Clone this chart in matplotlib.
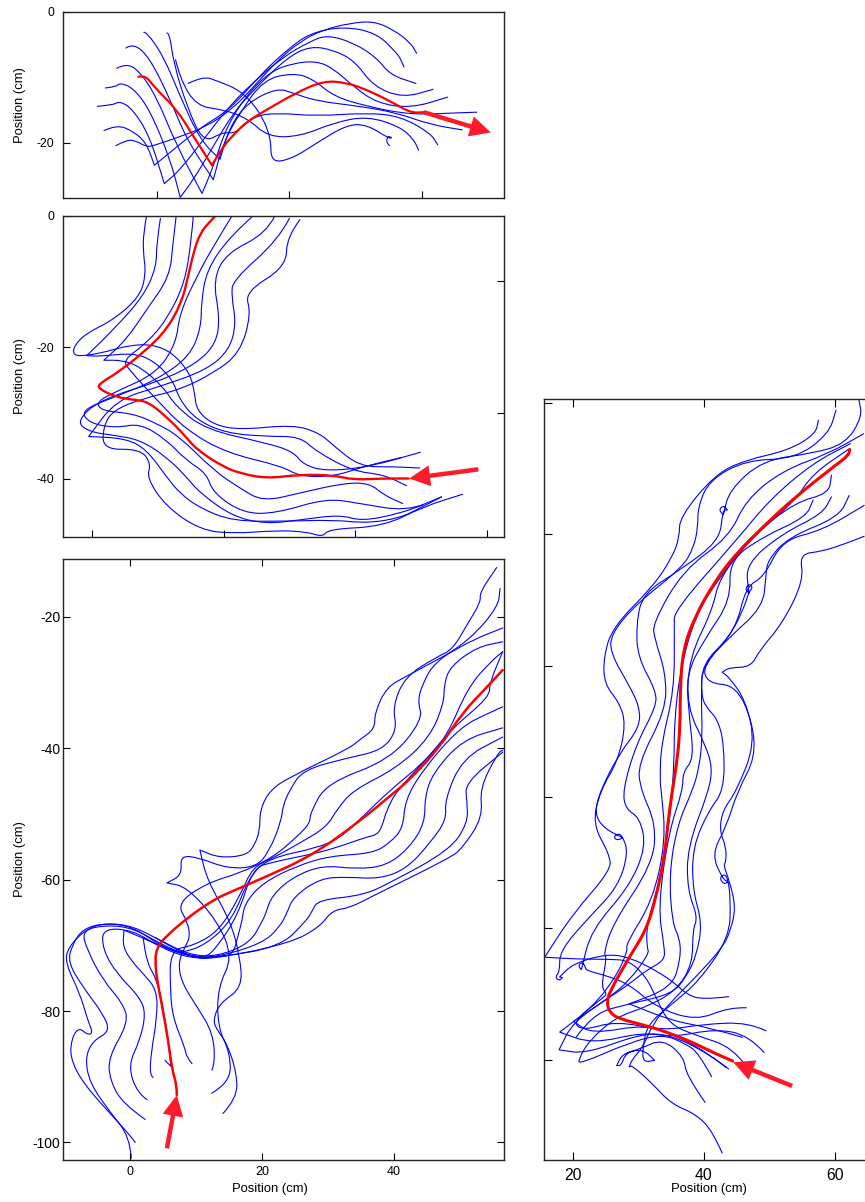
import math

import matplotlib
matplotlib.use("Agg")
import matplotlib.pyplot as plt
from matplotlib.patches import PathPatch
from matplotlib.path import Path

plt.rcParams['font.family'] = ['Liberation Sans', 'DejaVu Sans']
plt.rcParams['axes.unicode_minus'] = False

# top panel, positions in cm
a1 = [(-6.2,-20.4),(-4.6,-19.5),(-3.1,-19.7),(-1.6,-20.6),(-0.5,-20.4),(3.0,-19.2),(7.5,-17.5),(11.5,-14.7),(14.6,-11.4),(18.1,-7.5),(21.6,-4.5),(25.1,-2.7),(29.2,-1.7),(32.7,-1.4),(35.7,-2.7),(38.3,-4.7),(39.2,-6.3)]
a2 = [(-8,-18.1),(-6.1,-17.2),(-3.6,-18.2),(-1.6,-20),(-.4,-23.4),(2.5,-21),(6.5,-17.7),(11,-14.9),(15.6,-9.6),(19.6,-5.8),(23.1,-3.2),(28.2,-2.2),(33.2,-3.2),(36.2,-6.3),(36.7,-7),(37.3,-8.4)]
a3 = [(-9,-14.4),(-6.6,-14.2),(-5.6,-13.6),(-3.6,-14.9),(-1.1,-19),(1.1,-26.2),(3.5,-24.1),(7,-19.5),(10.5,-14.9),(14.1,-11.1),(19.1,-6.8),(23.1,-4.5),(25.7,-3.5),(29.7,-4.7),(33.2,-7),(35.2,-9.6),(39.1,-10.9)]
a4 = [(-7.8,-11.6),(-6.1,-11.4),(-5.6,-10.8),(-3.6,-11.6),(-1.1,-14.9),(2,-22.5),(3.5,-28.3),(5.5,-25.6),(8.5,-20.5),(11.5,-15.4),(14.6,-11.9),(19.6,-7),(23.1,-5.2),(26.7,-5.8),(29.9,-7.5),(32.7,-11.4),(37.2,-13.1),(41.7,-11.8)]
a5 = [(-6.1,-8.6),(-4.6,-7.8),(-2.6,-9.1),(-.1,-12.9),(3,-20.5),(6.8,-27.7),(8.5,-23.6),(10.5,-17.5),(13.6,-12.6),(17.1,-9.1),(20.6,-7.8),(24.1,-7.5),(26.6,-8.6),(29.7,-11.4),(33.2,-13.9),(38.3,-14.7),(43.9,-13)]
a6 = [(-4.7,-5.5),(-3.6,-4.7),(-1.1,-7),(2,-13.4),(4.5,-19.5),(8.5,-25.6),(10,-20),(12.5,-15.4),(16.1,-10.3),(20.6,-9.3),(23.5,-10.2),(26.7,-12.9),(31.7,-14.4),(38.3,-15.7),(45.3,-15.4),(48.3,-15.3)]
a7 = [(-2,-3.1),(-1.6,-3),(1,-6.8),(3.5,-12.9),(6.5,-19.5),(9.5,-22.5),(11,-17.5),(13.6,-13.9),(18.1,-11.6),(20.6,-12.4),(24.1,-13.6),(30.7,-14.4),(36.2,-15.4),(41.3,-17.2),(46.1,-18)]
a8 = [(1.5,-3.2),(1.9,-3.2),(2.5,-7.8),(4.5,-14.4),(7,-20),(10,-18.3),(11.8,-18.6),(14.6,-15.9),(18.1,-15.4),(24.1,-15.9),(31.7,-15.4),(36.7,-15.9),(41.3,-18.5),(42.4,-20.3)]
a9 = [(2.8,-7.3),(3.5,-10.3),(6,-14.4),(10,-14.9),(13.6,-16.2),(16.8,-19.1),(21.6,-19),(26.7,-16.9),(31.7,-15.9),(36.7,-17.5),(38.8,-19.5),(39.5,-21.1)]
a10 = [(4.7,-10.9),(7,-9.8),(9,-10.5),(12.5,-11.9),(15.3,-14.9),(17.2,-19),(17.2,-23.1),(20.6,-22.3),(24.1,-20),(28.7,-17.2),(31.7,-17.2),(35,-19.3),(35.4,-19.2),(34.9,-18.9),(34.6,-19.8),(35.1,-20.4)]
a_red = [(-2.8,-9.9),(-1.8,-9.6),(-.3,-11.6),(3,-14.9),(5.5,-19),(8.3,-23.4),(10,-20.5),(11.8,-18.5),(13.6,-16.7),(16.6,-14.9),(20.9,-12.4),(25.1,-10.5),(28.7,-10.8),(31.7,-11.9),(35.2,-13.6),(38.3,-15.4),(40.3,-15.3)]
a_arrow = [(40.3,-15.3),(50.4,-18.4)]

# second panel
b1 = [(8.3,0),(7.8,-2.7),(7.8,-5.7),(8.2,-8.8),(7.3,-12.3),(3.2,-15.9),(-.9,-17.9),(-2.8,-19.9),(-2.8,-21.3),(-.9,-21.3),(2.2,-20.7),(5.7,-19.7),(9.3,-19.6),(12.3,-20.9),(14.9,-24),(15.6,-27),(15.9,-29.6),(18.4,-31.8),(22.5,-32.6),(30.6,-31.8),(34.6,-33.1),(36.7,-35),(40.7,-38.2),(45.8,-38.2),(49.8,-38.4)]
b2 = [(10.4,-.4),(9.8,-4.2),(9.8,-7.8),(7.8,-12.3),(3.2,-17.4),(-.8,-21.3),(1.2,-21.4),(6.2,-20.9),(9.3,-22),(12.3,-25),(13.3,-28),(15.9,-31.1),(20.4,-33.1),(26.5,-33.6),(31.6,-33.6),(34.1,-35.9),(39.7,-38.9),(44.3,-39.4),(47.8,-41.1)]
b3 = [(12.8,0),(12.3,-4.2),(11.8,-9.3),(8.3,-14.3),(5.2,-18.9),(1.8,-22),(4.7,-22),(7.3,-23),(10.8,-26),(12.8,-29.1),(17.4,-32.6),(26.5,-34.6),(30.6,-35.9),(32.1,-37.9),(35.6,-38.9),(42.2,-38.2),(49.9,-36)]
b4 = [(15.4,0),(15.1,-3.7),(14.1,-10.3),(11.3,-15.9),(8.3,-19.4),(4.7,-22),(5.7,-23.5),(9.8,-28),(14.3,-32.6),(20.4,-36.1),(28.8,-38.1),(31.6,-39.7),(36.7,-39.7),(41.2,-38.2),(47,-36.8)]
b5 = [(21.3,0),(18.4,-4.7),(15.9,-9.3),(13.3,-14.9),(12.8,-19.4),(9.8,-24),(3.8,-26.7),(.7,-28.3),(1.4,-29.7),(6.2,-30.1),(9.8,-31.6),(13.3,-33.6),(18.4,-38.7),(22.5,-41.5),(26,-43.5),(31.6,-42.2),(38.2,-40.7),(42.2,-40.7),(44.3,-42.5),(47.2,-43.8)]
b6 = [(24.5,0),(20.9,-3.2),(17.4,-8.3),(16.6,-13.3),(16.6,-16.9),(14.9,-21.4),(9.8,-25),(3.7,-27.5),(-1.7,-29.6),(-.4,-31.6),(3.7,-32.3),(7.3,-31.6),(11.3,-34.1),(14.3,-37.2),(17.4,-39.2),(18.4,-42.2),(23,-45.3),(28,-45.3),(35.6,-43),(40.7,-43.8),(47.8,-45),(53.1,-42.8)]
b7 = [(27.8,0),(26.5,-2.7),(20.4,-5.7),(18.4,-9.8),(19.4,-15.4),(18.9,-19.4),(15.9,-22.5),(10.3,-25.2),(1.2,-28),(-2.4,-31.3),(-.4,-32.9),(3.2,-33.4),(7.3,-34.1),(11.3,-36.7),(14.3,-39.7),(16.4,-42.2),(21.4,-45.8),(26.5,-46.9),(31.6,-46.3),(37.7,-45.5),(41,-46.5),(46.8,-45.3),(50.3,-44)]
b8 = [(30,-.4),(28.3,-3.7),(21.4,-9.8),(21.2,-12.3),(21.9,-16.4),(20.9,-20.4),(17.4,-23.5),(10.3,-26),(3.7,-28),(-.5,-33.6),(5.2,-33.9),(8.3,-35.6),(11.3,-39.7),(13.3,-42.2),(16.4,-44.5),(21.4,-46.5),(29.6,-46.5),(36.7,-46.3),(41.8,-46.8),(46.8,-46),(49.8,-44.5),(53.1,-42.8)]
b9 = [(31.6,-.6),(29.6,-3.2),(29.5,-7.8),(23.2,-11.6),(24.2,-14.9),(22.5,-20.9),(18.4,-24),(13.3,-26.5),(7.8,-27.8),(3.2,-29.6),(1.7,-32.1),(1.7,-35.6),(7.3,-35.5),(9,-37.7),(8.3,-39.9),(11.3,-44.3),(16.4,-47.8),(21.4,-48.4),(28,-47.9),(32.6,-48.1),(35.1,-48.9),(35.9,-47.7),(44.3,-47.3),(50.3,-44.3),(56.3,-42.4)]
b_red = [(18.8,0),(17.9,-.9),(16.4,-2.7),(15.4,-5.7),(14.6,-9.3),(13.6,-13.3),(11.3,-17.4),(8.3,-20.4),(4.2,-23.7),(1.2,-25.5),(.9,-26.3),(3.7,-27.6),(6.2,-28),(8.5,-28.3),(11.3,-30.6),(13.8,-33.1),(15.9,-35.6),(19.9,-38.2),(22.5,-39.2),(26.5,-40),(31.6,-39.4),(36.7,-39.5),(39.7,-40.2),(43.8,-40),(48.1,-40)]
b_arrow = [(58.7,-38.6),(48.2,-40)]

# lower left panel
c1 = [(14.1,-95.6),(16.2,-93.3),(16.2,-89.5),(14.7,-84.9),(13.2,-82.9),(12.6,-81.4),(13.6,-78.8),(17,-76.5),(16.7,-71.8),(15.2,-66.2),(11.7,-60.1),(10.6,-55.5),(13.6,-56.7),(17.7,-56.3),(18.9,-54.7),(19.7,-52.5),(19.7,-49.4),(21.2,-46.4),(24.2,-44.4),(33.3,-40),(34.8,-38.7),(37.1,-37.1),(37.1,-34.6),(38.9,-30.7),(42,-29),(48.5,-25.5),(52,-23.5),(56.5,-21.7)]
c2 = [(12.4,-92.5),(15.2,-90.9),(15.2,-86.4),(13.3,-82.5),(13.3,-76.4),(15.6,-71.8),(13.2,-66.2),(8.6,-61.1),(5.6,-60.5),(7.9,-59.3),(7.6,-56.3),(10.6,-56.7),(14.7,-58.3),(19.2,-58.1),(21.2,-55.5),(22.9,-51.2),(23.2,-48.7),(24.2,-46.4),(26.2,-43.3),(32.9,-41.5),(38.3,-40.3),(40.5,-37.2),(39.8,-33.7),(41.7,-29.1),(46.5,-26.1),(48.9,-25),(51.1,-21.2),(53.2,-17.7),(53,-16.3),(55.6,-12.5)]
c3 = [(12.4,-89),(12.9,-88),(12.6,-83.4),(10.2,-79.4),(7.9,-75.8),(7.3,-72.7),(8.3,-70.3),(9.1,-68.8),(8.8,-66.6),(7.1,-63.6),(11.7,-60.5),(16.7,-59),(21.7,-56.6),(25.3,-53.5),(27.3,-51.4),(27.3,-49.9),(29.8,-45.3),(39.4,-41.8),(44.4,-35.7),(43.6,-32.8),(44.4,-30.1),(46.2,-26.9),(51.5,-23.5),(55.8,-18.5),(56.1,-15.7)]
c4 = [(9.4,-88),(8.6,-87.1),(8.3,-85.5),(6.5,-81),(6.1,-76.8),(6.1,-70.7),(9.8,-70),(13.6,-67.7),(16.7,-62.4),(18.6,-58.1),(21.7,-56.7),(25.8,-54.4),(29.8,-52),(31.4,-49.3),(33.8,-46.4),(40.5,-43),(45.5,-38.3),(47.6,-33.1),(47.6,-30.4),(48.5,-27.6),(52.6,-24.6),(56.5,-23.8)]
c5 = [(5.3,-87.5),(6.2,-88.4),(5.8,-84.5),(5,-79.4),(4.1,-75.3),(2.6,-72.7),(2,-68.9),(6.1,-70.7),(7.6,-71.2),(11.4,-70),(15.5,-66.2),(18.2,-59.3),(21.2,-56.7),(28.3,-55.2),(31.8,-53.7),(35.1,-50.6),(39.4,-46.4),(44.4,-42.3),(48,-38.3),(51.2,-30.8),(54.5,-27),(56.5,-25.3)]
c6 = [(3.5,-90.1),(3,-89.8),(3.2,-86.4),(4.1,-81),(4.1,-76.8),(2,-74.3),(.5,-72.7),(-1.1,-70.3),(-.9,-67.7),(2,-68.9),(6.1,-70.7),(11.1,-72),(12.9,-70.7),(16.4,-65.4),(18.6,-58.3),(21.7,-57.3),(27.7,-56.1),(31.4,-55.1),(35.9,-53.5),(37.4,-53.2),(38.2,-52),(38.9,-49.4),(40.5,-46.4),(44.4,-42.3),(48.9,-36.9),(54.5,-32.2),(54.5,-30.1),(56.5,-25.3)]
c7 = [(2.3,-96.5),(-1.1,-94.1),(-3,-90.6),(-3.3,-87.1),(-.2,-81.7),(-1.1,-78.8),(-4.1,-75.3),(-6.5,-70.7),(-7.3,-67.7),(-3.5,-66.9),(.5,-67.4),(4.5,-69.7),(9.1,-71.8),(13.2,-71.8),(15.6,-71.5),(16.4,-68.5),(17,-66.2),(17.4,-63.6),(20.1,-60.5),(25.3,-57.9),(30.3,-56.4),(36.8,-56),(39.4,-54.4),(41.4,-52.2),(41.7,-47.9),(44.4,-43.3),(50,-36.8),(54.5,-34.6),(56.5,-33.7)]
c8 = [(.2,-102.4),(0,-99.2),(-3,-95.4),(-6.1,-91),(-6.8,-87.1),(-5.6,-84.5),(-3,-83.1),(-4.1,-80.4),(-7.1,-76.4),(-9.4,-72.6),(-8.8,-70),(-7.1,-67.4),(-3.5,-66.6),(.5,-67.1),(4.5,-69.2),(9.1,-71.5),(13.2,-71.7),(18.2,-69.7),(20.1,-66.2),(20.5,-65.4),(21.5,-62.4),(24.7,-59.6),(29.2,-57.8),(34.4,-58.4),(38.9,-57.9),(42.4,-55.1),(44.7,-51.4),(44.7,-47.4),(45.9,-43.8),(50.4,-38.7),(56.5,-36.9)]
c9 = [(.8,-100),(0,-98.9),(-3,-95.6),(-7.1,-91),(-9.1,-87.1),(-8.8,-84),(-7.7,-82.5),(-6.5,-83.6),(-5.6,-83.4),(-6.4,-81.4),(-7.6,-77.3),(-9.8,-72.7),(-9.4,-70.3),(-6.5,-67.4),(-3.5,-66.6),(.5,-67.2),(4.5,-70),(9.1,-71.8),(13.2,-71.8),(20.1,-69.7),(22.7,-67.2),(23.8,-65.1),(24.7,-62.7),(28.8,-59.8),(32.9,-59.6),(37.9,-59.9),(42,-58.3),(45.5,-54.4),(48,-50.9),(47.7,-47.9),(50.4,-41.5),(56.5,-38.3)]
c10 = [(2.6,-93.5),(1.1,-92.5),(-.3,-88.3),(1.5,-84.5),(2.4,-80.4),(1.5,-77.9),(-2,-74.3),(-4.1,-70.7),(-4.2,-67.4),(.5,-67.7),(4.5,-70.3),(9.1,-72),(13.2,-71.8),(22.7,-70.3),(26.8,-66.2),(27.6,-64.8),(28.5,-63.1),(35.3,-62.4),(39.4,-60.5),(48.5,-55.5),(51.2,-51.4),(51.1,-48.2),(50.8,-45.3),(56.5,-40.6)]
c11 = [(3.8,-68.8),(9.1,-72),(13.2,-72),(24.2,-69.7),(28.8,-67.2),(30.6,-64.7),(33.3,-64.3),(36.4,-62.7),(48.5,-56.7),(50.4,-55.2),(53.5,-50.5),(53,-46.1),(55.8,-40.7),(56.5,-40.3)]
c_red = [(7.1,-92.8),(7.1,-91.3),(6.4,-89),(5.8,-84.5),(4.8,-78.8),(4.1,-75.3),(3.8,-72.3),(4.1,-70.3),(5.3,-68.8),(8.6,-65.9),(12.6,-63.1),(15.2,-61.9),(20.1,-59.8),(27.7,-56.3),(35.1,-50.9),(40.1,-46.7),(42.4,-44.8),(47,-39.8),(50.4,-34.6),(54.1,-30.7),(56.5,-28.1)]
c_arrow = [(5.6,-100.9),(7.1,-92.8)]

# right panel
d1 = [(42.8,-114.2),(41.3,-110.8),(38.8,-108.3),(35,-106.7),(32.2,-103.7),(29.1,-100.9),(28.6,-101.1),(29.1,-99.9),(30.7,-98.1),(32.2,-94.6),(34.7,-91.5),(38.8,-87.4),(42.9,-82.9),(44.1,-80.3),(44.9,-76.8),(43.9,-72.7),(43,-70.4),(43.4,-69.9),(43.4,-67.6),(42.4,-65.1),(42.9,-62),(44.9,-59.3),(47.9,-51.9),(46.4,-45.3),(43.9,-41.8),(42.8,-41),(43.9,-40.3),(47.2,-40.2),(48.5,-37.7),(52,-33.6),(55.3,-27),(54.6,-23),(58.1,-22.6),(61.7,-21.4),(64.5,-20.3)]
d2 = [(40.2,-106.5),(37.3,-102.4),(37,-99.6),(33.7,-96.8),(30.2,-98.4),(27.6,-99.1),(26.7,-100.9),(27.4,-100.9),(28.1,-98.9),(30.7,-98.4),(32.5,-100.1),(30.7,-100.4),(30.7,-98.1),(31.4,-94.6),(35.2,-91.5),(39.3,-88),(43.9,-81.4),(44.1,-75.8),(43.7,-72.4),(43.1,-71.7),(42.4,-72.4),(43.1,-73.3),(43.7,-72.9),(42.9,-72.5),(41.2,-68.7),(43.4,-64.6),(45.2,-59),(47.9,-54),(47.4,-48.4),(44.9,-43),(40.6,-42.7),(39.8,-40),(44.9,-34.6),(46.4,-28),(49.2,-26.5),(52,-20.9),(58.1,-19.4),(64.5,-15.6)]
d3 = [(41.2,-102.6),(39.3,-99.1),(37.3,-97.6),(33.7,-96.1),(28.6,-97.4),(21,-100.7),(20.9,-99.9),(22.5,-97.1),(26.6,-93.5),(31.2,-92),(35.8,-89.5),(38.3,-85.4),(38.3,-80.3),(39.1,-78.3),(37.5,-74.2),(37.5,-67.6),(40.8,-59),(41.3,-55.5),(40.3,-52.2),(37.4,-46.3),(37.8,-38.7),(41.3,-31.6),(42.4,-26.5),(47.9,-19.9),(54,-15.1),(59.1,-13.8),(59.5,-11)]
d4 = [(43.8,-101.4),(40.8,-99.1),(34.7,-96.1),(30.2,-96.1),(22,-99.1),(17.9,-98.5),(20,-94.3),(25.6,-90.5),(28.6,-88.5),(31.2,-86.4),(34,-84.9),(34,-82.9),(33,-76.8),(34.7,-65.1),(36.8,-59),(36.8,-56.2),(38.5,-54.2),(37.8,-47.9),(37.3,-41.2),(40.3,-35.7),(44.1,-30.1),(43.9,-24),(49,-20.4),(55.6,-17.4),(56.7,-14.8)]
d5 = [(49.2,-98.9),(46.9,-96.3),(41.8,-95.3),(35.2,-96.6),(30.7,-95.8),(23,-97.6),(18,-95.8),(23,-92),(26.6,-87.4),(28.4,-83.4),(28.1,-82.4),(32.2,-75.8),(34.2,-66.6),(33.5,-59),(33.3,-57.3),(33.5,-51.9),(35.5,-43.8),(35.5,-34.1),(35.5,-31.6),(44.9,-21),(50,-14.8),(56.6,-9.2),(62.4,-6.2)]
d6 = [(49.5,-95.6),(46.9,-94.3),(39.8,-94.6),(33.7,-95.6),(26.6,-94.1),(21.5,-95.6),(20,-94.2),(24.3,-90.8),(25.3,-90),(24.3,-89),(25.2,-84.4),(24.7,-83.9),(26.1,-79.3),(32.2,-70.2),(32.7,-64.1),(30.4,-59),(29.9,-55),(34.2,-46.8),(34.2,-41.2),(32.5,-35.9),(32.2,-33.6),(36.8,-25.5),(43.9,-20.4),(46.4,-14.8),(52,-10.3),(59.1,-7.7),(64.4,-4.7)]
d7 = [(46.5,-92.1),(43.9,-92),(38.8,-94.1),(32.7,-92),(28.6,-88.5),(25.1,-87.2),(22,-86.4),(21.9,-85.8),(21.4,-85.1),(20.8,-85.7),(21.3,-86.3),(22.8,-80.3),(28.6,-73.7),(31.2,-67.6),(30.2,-63.1),(28.1,-61.9),(27.6,-59),(29.7,-51.9),(32.7,-46.3),(32.7,-43.8),(29.9,-38.7),(29.7,-33.6),(30.7,-29),(36.3,-25.5),(42.4,-21),(42.9,-16.4),(43.6,-16.3),(43,-15.6),(42.3,-16.3),(43,-17),(43.9,-13.3),(49,-8.7),(56.6,-7.7),(61.7,-6.2),(64.2,-2.1),(63.7,.4)]
d8 = [(43.8,-90.4),(39.8,-90.9),(37.3,-90),(35.8,-88.5),(32.7,-86.4),(28.6,-84.4),(25.1,-83.9),(20,-85.4),(18,-87.4),(18.4,-87.5),(17.9,-88),(17.3,-87.4),(18,-86.6),(18,-83.4),(22.5,-78.3),(26.9,-73.7),(28.5,-68.4),(27.5,-65.8),(26.8,-65.6),(26.2,-66.2),(26.9,-66.6),(27.6,-66.2),(24.8,-64.8),(23.3,-62.6),(24.2,-59),(27.1,-53.4),(30.2,-49.4),(30.2,-46.3),(28.6,-43),(25.8,-38.2),(25.8,-35.2),(29.7,-30.6),(36.8,-25),(38.5,-21.9),(39.1,-18.9),(39.1,-15.9),(40.8,-11.8),(46.4,-8.7),(54,-8.5),(59.1,-4.7),(60.2,-1.1)]
d9 = [(46.4,-100.9),(44.4,-98.1),(38.8,-96.3),(34.7,-94.6),(32.7,-90.5),(31.2,-87.4),(28.6,-84.9),(25.6,-84.7),(21,-84.7),(15.7,-84.4),(20,-77.8),(25.8,-71.2),(25.6,-68.7),(23,-64.1),(24.2,-59),(26.9,-54.5),(28.1,-48.9),(27.1,-45.6),(24.8,-42.8),(24.7,-38.7),(26.1,-34.1),(32.2,-28),(35.2,-23.5),(36.3,-20.4),(36.3,-17.4),(41.8,-10.8),(46.4,-8.7),(53,-7.2),(57.1,-4.7),(57.5,-2.6)]
d10 = [(43.4,-101.2),(40.8,-99.1),(36.3,-96.6),(31.2,-94.6),(23,-96.1),(20.1,-94.2),(25.6,-90.5),(28.6,-88),(31.7,-83.8),(31.3,-82.9),(31.3,-79.3),(33.2,-73.2),(34.7,-64.1),(35.2,-59),(35.5,-53.4),(35.5,-48.9),(36.3,-41.2),(38.6,-32.6),(42.4,-26.5),(47.9,-19.9),(53.8,-15.1),(56.6,-10.8),(62.2,-7)]
d11 = [(45.9,-96.6),(40.8,-95.1),(35.2,-94.1),(28.6,-91.5),(35.2,-89),(36.5,-84.4),(36.3,-81.4),(35.2,-79.3),(34.7,-71.7),(36,-64.1),(38.3,-59),(39.3,-55.5),(39.8,-50.9),(39.6,-44.3),(39.8,-39.7),(43.9,-35.7),(46.2,-31.1),(46.9,-28.7),(47.5,-28.2),(47,-27.5),(46.3,-28.3),(46.9,-29),(46.4,-24.5),(52,-19.9),(58.1,-16.9),(59.5,-14.3)]
d12 = [(20.5,-96.6),(23,-93),(28.6,-91.5),(35.2,-90),(37.3,-87.4),(38.8,-84.4),(39.8,-79.3),(38.3,-74.2),(38.3,-67.6),(40.8,-62),(43.1,-59),(43.1,-51.9),(42.1,-48.1),(40.3,-46.3),(39.6,-44.3),(39.8,-40),(43.9,-35.7),(49,-31.1),(49.5,-26.5),(49.7,-24),(53,-20.4),(60.6,-17.4),(62.2,-14.1)]
d_red = [(44.4,-100.2),(41.8,-99.1),(38.8,-97.6),(35.2,-96.1),(31.2,-94.8),(27.1,-93.8),(25.6,-92.8),(25.2,-91.3),(25.6,-89.7),(28.6,-84.4),(31.2,-80.3),(32.7,-75.3),(34,-69.2),(34.5,-64.1),(35.2,-59),(36,-54),(36.4,-48.9),(36.4,-43.8),(36.8,-37.7),(38.6,-32.6),(41.8,-27),(44.9,-23),(49,-18.9),(54,-14.3),(60.1,-9.5),(62.1,-8),(62.3,-7.1)]
d_arrow = [(53.5,-104),(44.5,-100.4)]

fig = plt.figure(figsize=(8.65, 12.02), dpi=100)


def make_axes(left, right, top, bottom):
    # box given in pixels from the top left of the picture
    return fig.add_axes([left / 865, 1 - bottom / 1202, (right - left) / 865, (bottom - top) / 1202])


def is_corner(p0, p1, p2):
    ux, uy = p1[0] - p0[0], p1[1] - p0[1]
    vx, vy = p2[0] - p1[0], p2[1] - p1[1]
    n = math.hypot(ux, uy) * math.hypot(vx, vy)
    return n > 0 and (ux * vx + uy * vy) / n < -0.3


def curve_path(curve):
    # round the joins with quadratic segments, sharp turns stay sharp
    verts = [curve[0]]
    codes = [Path.MOVETO]
    for i in range(1, len(curve) - 1):
        p = curve[i]
        q = curve[i + 1]
        mid = ((p[0] + q[0]) / 2, (p[1] + q[1]) / 2)
        if is_corner(curve[i - 1], p, q):
            verts += [p, mid]
            codes += [Path.LINETO, Path.LINETO]
        else:
            verts += [p, mid]
            codes += [Path.CURVE3, Path.CURVE3]
    verts.append(curve[-1])
    codes.append(Path.LINETO)
    return Path(verts, codes)


def draw(ax, blue, red, arrow, red_width):
    for curve in blue:
        ax.add_patch(PathPatch(curve_path(curve), fill=False, edgecolor='#0000ff', lw=0.8,
                               joinstyle='round', capstyle='round'))
    ax.add_patch(PathPatch(curve_path(red), fill=False, edgecolor='#ff0000', lw=red_width,
                           joinstyle='round', capstyle='round'))
    ax.annotate('', xy=arrow[1], xytext=arrow[0],
                arrowprops=dict(width=3.2, headwidth=15, headlength=15, shrink=0,
                                facecolor='#ff1a2a', edgecolor='none'))
    for s in ax.spines.values():
        s.set_linewidth(1.0)
        s.set_color('#222222')


ax_a = make_axes(63, 504, 12, 198)
draw(ax_a, [a1, a2, a3, a4, a5, a6, a7, a8, a9, a10], a_red, a_arrow, 1.6)
ax_a.set_xlim(-14.2, 52.4)
ax_a.set_ylim(-28.4, 0)
ax_a.set_xticks([0, 20, 40])
ax_a.set_yticks([0, -20])
ax_a.tick_params(direction='in', labelbottom=False, length=5, labelsize=8.7, width=0.8, pad=6.5)
ax_a.set_ylabel('Position (cm)', fontsize=9.4)
ax_a.yaxis.set_label_coords(-0.084, 0.5)

ax_b = make_axes(63, 504, 215.7, 537)
draw(ax_b, [b1, b2, b3, b4, b5, b6, b7, b8, b9], b_red, b_arrow, 1.7)
ax_b.set_xlim(-4.4, 62.6)
ax_b.set_ylim(-48.9, 0)
ax_b.set_xticks([0, 20, 40, 60])
ax_b.set_yticks([0, -20, -40])
ax_b.set_yticks([-10, -20, -30, -40], minor=True)
ax_b.tick_params(direction='in', labelbottom=False, length=5, labelsize=8.7, width=0.8, pad=6.5)
ax_b.tick_params(which='minor', direction='in', left=False, right=True, length=5, width=0.8)
ax_b.set_ylabel('Position (cm)', fontsize=9.4)
ax_b.yaxis.set_label_coords(-0.084, 0.5)

ax_c = make_axes(63, 504, 559, 1159.5)
draw(ax_c, [c1, c2, c3, c4, c5, c6, c7, c8, c9, c10, c11], c_red, c_arrow, 1.8)
ax_c.set_xlim(-10.15, 56.7)
ax_c.set_ylim(-102.6, -11.2)
ax_c.set_xticks([0, 20, 40])
ax_c.set_yticks([-20, -40, -60, -80, -100])
ax_c.tick_params(direction='in', top=True, right=True, length=5, width=0.8)
ax_c.tick_params(axis='x', labelsize=9, pad=5)
ax_c.tick_params(axis='y', labelsize=10, pad=2)
ax_c.set_xlabel('Position (cm)', fontsize=9.4)
ax_c.xaxis.set_label_coords(0.469, -0.0391)
ax_c.set_ylabel('Position (cm)', fontsize=9.4)
ax_c.yaxis.set_label_coords(-0.084, 0.5)

ax_d = make_axes(544, 874, 399, 1159.5)
draw(ax_d, [d1, d2, d3, d4, d5, d6, d7, d8, d9, d10, d11, d12], d_red, d_arrow, 2.2)
ax_d.set_xlim(15.6, 66)
ax_d.set_ylim(-115.2, 0.6)
ax_d.set_xticks([20, 40, 60])
ax_d.set_yticks([0, -20, -40, -60, -80, -100])
ax_d.tick_params(direction='in', top=True, length=6, labelleft=False, width=0.8)
ax_d.tick_params(axis='x', labelsize=11.3, pad=6)
ax_d.set_xlabel('Position (cm)', fontsize=9.4)
ax_d.xaxis.set_label_coords(0.5, -0.0309)

fig.savefig('out.png', dpi=100)
